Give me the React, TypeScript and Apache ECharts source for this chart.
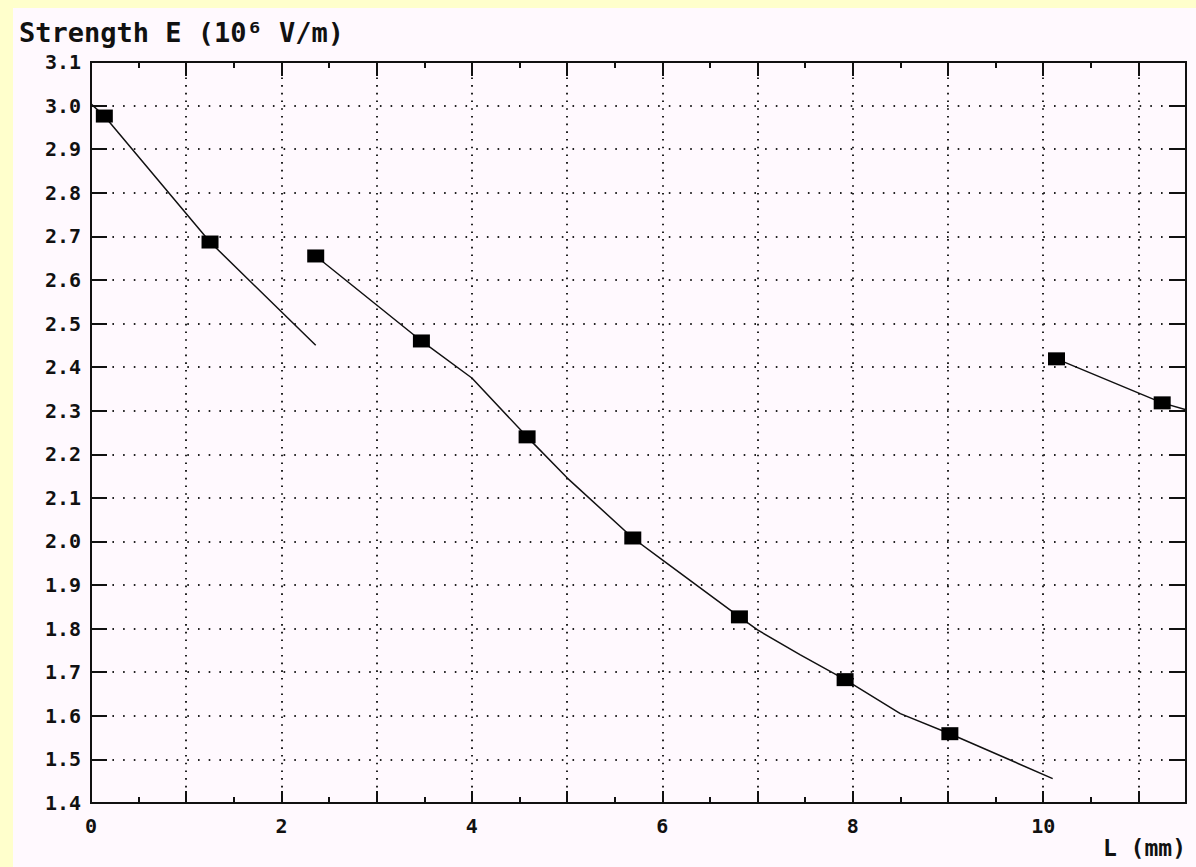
import React, { useEffect, useRef } from "react";
import * as echarts from "echarts";

// Measured marker positions
const markerL = [0.14, 1.25, 2.36, 3.47, 4.58, 5.69, 6.81, 7.92, 9.02, 10.14, 11.25];
const markerE = [2.976, 2.687, 2.655, 2.46, 2.24, 2.008, 1.827, 1.683, 1.559, 2.419, 2.318];

// Drawn curve segments
const seg1L = [0, 0.14, 1.25, 2.36];
const seg1E = [3.004, 2.976, 2.687, 2.45];
const seg2L = [2.36, 3.47, 4.0, 4.58, 5.0, 5.69, 6.0, 6.81, 7.0, 7.45, 7.92, 8.5, 9.02, 10.1];
const seg2E = [2.655, 2.46, 2.375, 2.24, 2.146, 2.008, 1.958, 1.827, 1.797, 1.74, 1.683, 1.605, 1.559, 1.456];
const seg3L = [10.14, 11.25, 11.5];
const seg3E = [2.419, 2.318, 2.302];

const xMin = 0;
const xMax = 11.5;
const yMin = 1.4;
const yMax = 3.1;

const yName = "Strength E (10\u2076 V/m)";
const xName = "L (mm)";

const FONT = "DejaVu Sans Mono";

const pair = (xs: number[], ys: number[]) => xs.map((x, i) => [x, ys[i]]);

export default function App() {
  const ref = useRef<HTMLDivElement>(null);

  useEffect(() => {
    if (!ref.current) return;
    const chart = echarts.init(ref.current, undefined, { renderer: "svg" });
    const axisLine = { show: true, onZero: false, lineStyle: { color: "#111", width: 2 } };
    const noLabel = { show: false };
    const baseX = { type: "value", min: xMin, max: xMax };
    chart.setOption({
      animation: false,
      backgroundColor: "#FFF9FE",
      grid: { left: 78, top: 54, right: 10, bottom: 64, containLabel: false },
      xAxis: [
        {
          ...baseX,
          position: "bottom",
          interval: 0.5,
          axisLine,
          axisTick: { show: true, inside: true, length: 6, lineStyle: { color: "#111", width: 2 } },
          axisLabel: noLabel,
          splitLine: { show: false },
        },
        {
          ...baseX,
          position: "bottom",
          interval: 1,
          axisLine,
          axisTick: { show: true, inside: true, length: 12, lineStyle: { color: "#111", width: 2 } },
          axisLabel: {
            show: true,
            interval: 0,
            margin: 13,
            color: "#111",
            fontFamily: FONT,
            fontWeight: "bold",
            fontSize: 20,
            formatter: (v: number) => (Math.abs(v % 2) < 1e-9 ? String(v) : ""),
          },
          splitLine: { show: true, lineStyle: { color: "#222", width: 2, type: [1.6, 6.1] } },
          name: xName,
          nameLocation: "end",
          nameGap: 0,
          nameTextStyle: {
            align: "right",
            verticalAlign: "top",
            padding: [33, 0, 0, 0],
            color: "#111",
            fontFamily: FONT,
            fontWeight: "bold",
            fontSize: 23,
          },
        },
        {
          ...baseX,
          position: "top",
          interval: 0.5,
          axisLine,
          axisTick: { show: true, inside: true, length: 6, lineStyle: { color: "#111", width: 2 } },
          axisLabel: noLabel,
          splitLine: { show: false },
        },
        {
          ...baseX,
          position: "top",
          interval: 1,
          axisLine,
          axisTick: { show: true, inside: true, length: 14, lineStyle: { color: "#111", width: 2 } },
          axisLabel: noLabel,
          splitLine: { show: false },
        },
      ],
      yAxis: [
        {
          type: "value",
          position: "left",
          min: yMin,
          max: yMax,
          interval: 0.1,
          axisLine,
          axisTick: { show: true, inside: true, length: 16, lineStyle: { color: "#111", width: 2 } },
          axisLabel: {
            show: true,
            margin: 10,
            color: "#111",
            fontFamily: FONT,
            fontWeight: "bold",
            fontSize: 20,
            formatter: (v: number) => v.toFixed(1),
          },
          splitLine: { show: true, lineStyle: { color: "#222", width: 2, type: [1.6, 9.1] } },
          name: yName,
          nameLocation: "end",
          nameGap: 16,
          nameTextStyle: {
            align: "left",
            verticalAlign: "bottom",
            padding: [0, 0, 0, -72],
            color: "#111",
            fontFamily: FONT,
            fontWeight: "bold",
            fontSize: 27,
          },
        },
        {
          type: "value",
          position: "right",
          min: yMin,
          max: yMax,
          interval: 0.1,
          axisLine,
          axisTick: { show: true, inside: true, length: 17, lineStyle: { color: "#111", width: 2 } },
          axisLabel: noLabel,
          splitLine: { show: false },
        },
      ],
      series: [
        ...[pair(seg1L, seg1E), pair(seg2L, seg2E), pair(seg3L, seg3E)].map((d) => ({
          type: "line",
          xAxisIndex: 1,
          yAxisIndex: 0,
          data: d,
          showSymbol: false,
          symbol: "none",
          lineStyle: { color: "#111", width: 1.5 },
          silent: true,
          clip: true,
        })),
        {
          type: "scatter",
          xAxisIndex: 1,
          yAxisIndex: 0,
          data: pair(markerL, markerE),
          symbol: "rect",
          symbolSize: [17, 13],
          itemStyle: { color: "#000", opacity: 1 },
          z: 5,
        },
      ],
    });
    return () => chart.dispose();
  }, []);

  return (
    <div
      style={{
        position: "fixed",
        left: 0,
        top: 0,
        width: 1196,
        height: 867,
        background: "#FFFFCC",
        overflow: "hidden",
      }}
    >
      <div
        ref={ref}
        style={{ position: "absolute", left: 13, top: 8, width: 1183, height: 859 }}
      />
    </div>
  );
}
